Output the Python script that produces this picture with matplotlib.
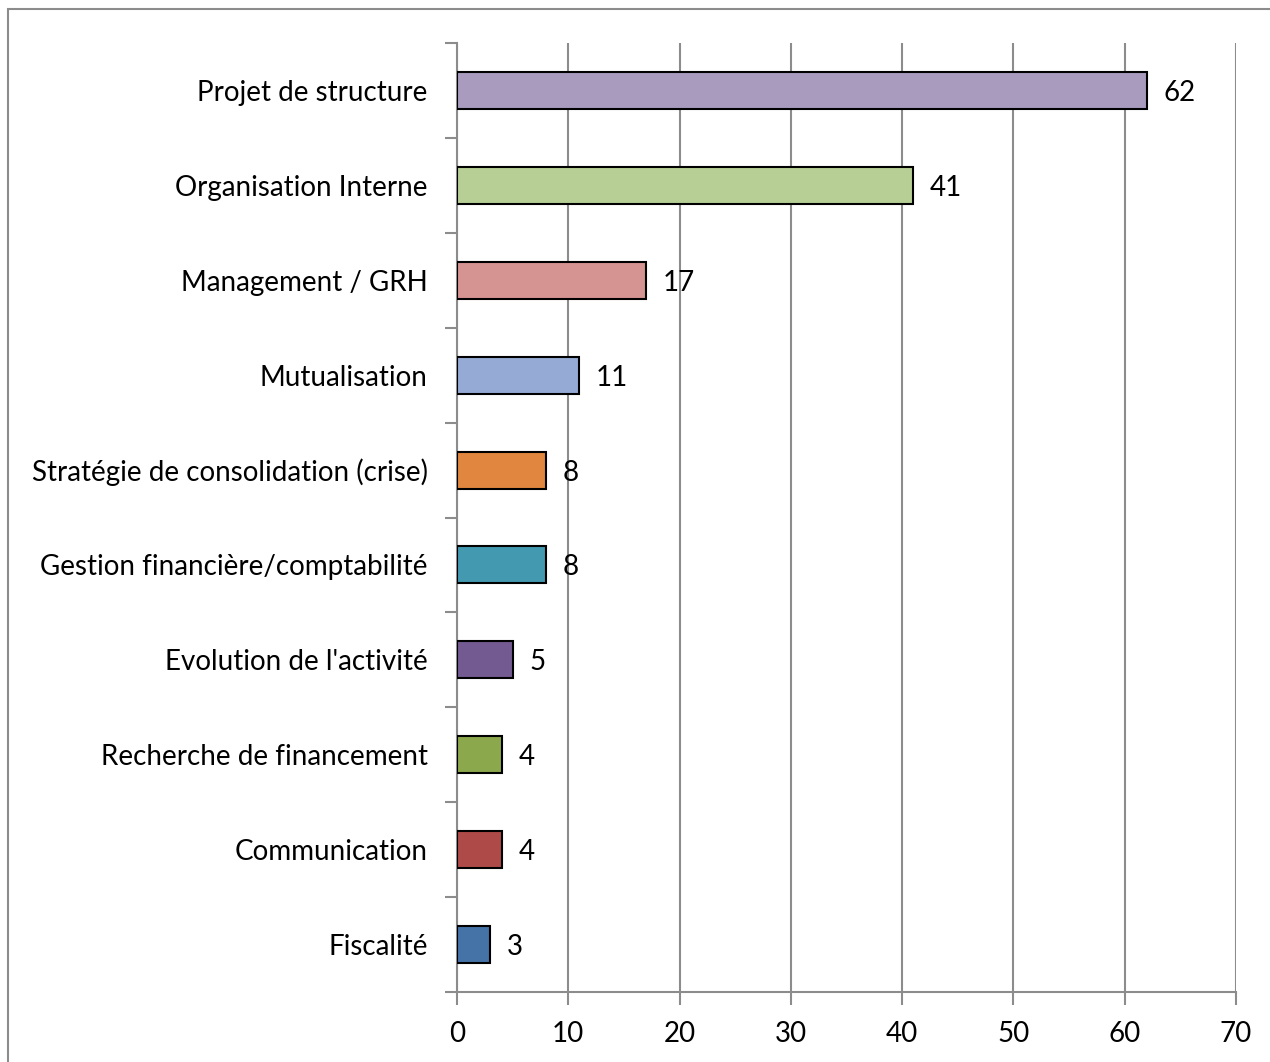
import matplotlib.pyplot as plt
from matplotlib.patches import Rectangle

categories = ["Projet de structure", "Organisation Interne", "Management / GRH",
              "Mutualisation", "Stratégie de consolidation (crise)",
              "Gestion financière/comptabilité", "Evolution de l'activité",
              "Recherche de financement", "Communication", "Fiscalité"]
values = [62, 41, 17, 11, 8, 8, 5, 4, 4, 3]
colors = ["#A99BBD", "#B7CF95", "#D59392", "#95ABD5", "#E0863F",
          "#4299B0", "#735A91", "#8CA84C", "#AE4B48", "#4572A7"]
xticks = [0, 10, 20, 30, 40, 50, 60, 70]

plt.rcParams['font.family'] = ['Lato', 'DejaVu Sans']
fs = 20

fig = plt.figure(figsize=(12.7, 10.62), dpi=100)
ax = fig.add_axes([457 / 1270, 1 - 992 / 1062, 779 / 1270, 949 / 1062])

n = len(categories)
ypos = list(range(n))[::-1]
ax.barh(ypos, values, height=0.39, color=colors, edgecolor="black",
        linewidth=1.5, zorder=3)
for y, v in zip(ypos, values):
    ax.text(v + 1.5, y, str(v), va="center_baseline", ha="left", fontsize=fs, zorder=4)

ax.set_xlim(0, 70)
ax.set_ylim(-0.5, n - 0.5)
ax.set_xticks(xticks)
ax.set_xticklabels([str(t) for t in xticks], fontsize=fs)
ax.set_yticks(ypos)
ax.set_yticklabels(categories, fontsize=fs, va="center_baseline")
ax.set_yticks([i - 0.5 for i in range(n + 1)], minor=True)
ax.tick_params(axis="y", which="major", length=0, pad=21)
ax.tick_params(axis="y", which="minor", length=9, width=1.5, color="#8c8c8c", direction="out")
ax.tick_params(axis="x", length=9, width=1.5, color="#8c8c8c", pad=12)
ax.grid(axis="x", color="#8c8c8c", linewidth=1.5, zorder=0)
for s in ["top", "right"]:
    ax.spines[s].set_visible(False)
for s in ["left", "bottom"]:
    ax.spines[s].set_color("#8c8c8c")
    ax.spines[s].set_linewidth(1.5)

fig.patches.append(Rectangle((8 / 1270, -0.5), 2, 0.5 + 1 - 9 / 1062,
                             transform=fig.transFigure, fill=False,
                             edgecolor="#8c8c8c", linewidth=1.5))

fig.savefig("out.png", dpi=100)
